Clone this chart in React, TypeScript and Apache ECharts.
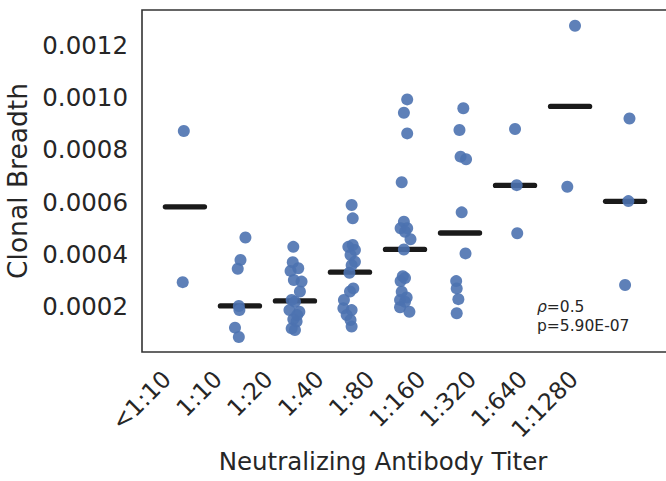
import React, { useEffect, useRef } from "react";
import * as echarts from "echarts";

const categories = ["<1:10", "1:10", "1:20", "1:40", "1:80", "1:160", "1:320", "1:640", "1:1280"];
const medians = [0.000582, 0.000203, 0.000222, 0.000332, 0.000419, 0.000482, 0.000664, 0.000966, 0.000603];
const yTicks = [0.0002, 0.0004, 0.0006, 0.0008, 0.001, 0.0012];

// [jitter offset, clonal breadth]
const gLt10 = [[-0.02, 0.000872], [-0.04, 0.000294]];
const g10 = [[0.1, 0.000465], [0.01, 0.000379], [-0.04, 0.000345], [-0.02, 0.000203], [-0.01, 0.000187], [-0.09, 0.00012], [-0.02, 0.0000841]];
const g20 = [[-0.03, 0.000429], [-0.04, 0.00037], [0.06, 0.000347], [-0.08, 0.000337], [-0.02, 0.000302], [0.12, 0.000296], [0.09, 0.000258], [-0.06, 0.000226], [0.0, 0.000219], [0.08, 0.000181], [-0.1, 0.000187], [-0.03, 0.000152], [0.03, 0.000143], [-0.06, 0.000117], [0.0, 0.000111], [0.04, 0.000168]];
const g40 = [[0.03, 0.000589], [0.05, 0.000538], [-0.03, 0.000429], [0.05, 0.000436], [0.09, 0.000417], [0.01, 0.000398], [0.09, 0.000372], [0.03, 0.000359], [-0.01, 0.00033], [0.06, 0.00027], [0.0, 0.000258], [-0.11, 0.000226], [-0.12, 0.000194], [0.03, 0.000187], [-0.06, 0.000168], [0.01, 0.000149], [0.03, 0.000124]];
const g80 = [[0.04, 0.000993], [-0.02, 0.000942], [0.04, 0.000863], [-0.06, 0.000676], [-0.02, 0.000525], [-0.08, 0.0005], [0.04, 0.0005], [0.0, 0.000487], [0.1, 0.000458], [-0.02, 0.000419], [-0.04, 0.000317], [-0.08, 0.000298], [-0.06, 0.000257], [-0.09, 0.000226], [0.0, 0.000219], [-0.09, 0.000198], [0.08, 0.000181], [0.0, 0.00031], [0.03, 0.000235]];
const g160 = [[0.06, 0.000959], [-0.01, 0.000876], [0.01, 0.000774], [0.11, 0.000764], [0.03, 0.000561], [0.1, 0.000404], [-0.07, 0.000298], [-0.06, 0.00027], [-0.03, 0.000229], [-0.06, 0.000175]];
const g320 = [[0.0, 0.00088], [0.03, 0.000665], [0.04, 0.000481]];
const g640 = [[0.09, 0.001275], [-0.05, 0.000659]];
const g1280 = [[0.08, 0.00092], [0.06, 0.000604], [0.0, 0.000283]];

const groups = [gLt10, g10, g20, g40, g80, g160, g320, g640, g1280];

const FONT = "DejaVu Sans";
const TXT = "#262626";

export default function App() {
  const ref = useRef<HTMLDivElement>(null);
  useEffect(() => {
    if (!ref.current) return;
    const chart = echarts.init(ref.current, null, { renderer: "svg" });
    const points = groups.flatMap((g, i) => g.map(([o, v]) => [i + o, v]));
    const medData = medians.map((m, i) => [i, m]);
    chart.setOption({
      animation: false,
      backgroundColor: "#ffffff",
      grid: {
        left: 142,
        top: 10,
        width: 526,
        height: 342,
        show: true,
        borderColor: "#333333",
        borderWidth: 1.6,
        backgroundColor: "transparent",
        containLabel: false,
        outerBoundsMode: "none",
      },
      xAxis: [
        {
          type: "value",
          min: -0.78,
          max: 8.78,
          show: false,
        },
        {
          type: "value",
          min: -0.4914,
          max: 9.848,
          position: "bottom",
          axisLine: { show: false },
          axisTick: { show: false },
          splitLine: { show: false },
          axisLabel: {
            customValues: [0, 1, 2, 3, 4, 5, 6, 7, 8],
            formatter: (v: number) => {
              const i = Math.round(v);
              return Math.abs(v - i) < 1e-6 && i >= 0 && i < categories.length ? categories[i] : "";
            },
            rotate: 45,
            margin: 23,
            fontSize: 23.5,
            fontFamily: FONT,
            color: TXT,
          },
          name: "Neutralizing Antibody Titer",
          nameLocation: "middle",
          nameGap: 92,
          nameTextStyle: {
            fontSize: 24.5,
            fontFamily: FONT,
            color: TXT,
            padding: [0, 44, 0, 0],
          },
        },
      ],
      yAxis: {
        type: "value",
        min: 0.0000268,
        max: 0.001335,
        axisLine: { show: false },
        axisTick: { show: false },
        splitLine: { show: false },
        axisLabel: {
          customValues: yTicks,
          formatter: (v: number) => v.toFixed(4),
          margin: 14,
          fontSize: 24.5,
          fontFamily: FONT,
          color: TXT,
        },
        name: "Clonal Breadth",
        nameLocation: "middle",
        nameGap: 91,
        nameTextStyle: {
          fontSize: 26.5,
          fontFamily: FONT,
          color: TXT,
        },
      },
      series: [
        {
          type: "custom",
          xAxisIndex: 0,
          z: 1,
          data: medData,
          renderItem: (params: any, api: any) => {
            const i = api.value(0);
            const m = api.value(1);
            const p1 = api.coord([i - 0.355, m]);
            const p2 = api.coord([i + 0.355, m]);
            return {
              type: "line",
              shape: { x1: p1[0], y1: p1[1], x2: p2[0], y2: p2[1] },
              style: { stroke: "#1a1a1a", lineWidth: 5.3, lineCap: "round" },
            };
          },
        },
        {
          type: "scatter",
          xAxisIndex: 0,
          z: 2,
          data: points,
          symbol: "circle",
          symbolSize: 12,
          itemStyle: { color: "#4C72B0", opacity: 0.9 },
        },
      ],
      graphic: [
        {
          type: "text",
          left: 537,
          top: 299,
          style: {
            text: "{a|ρ}=0.5",
            fontSize: 15.5,
            fontFamily: FONT,
            fill: TXT,
            rich: { a: { fontStyle: "italic", fontSize: 15.5, fontFamily: FONT, fill: TXT } },
          },
        },
        {
          type: "text",
          left: 537,
          top: 318,
          style: {
            text: "p=5.90E-07",
            fontSize: 15.5,
            fontFamily: FONT,
            fill: TXT,
          },
        },
      ],
    });
    return () => chart.dispose();
  }, []);
  return (
    <div
      ref={ref}
      style={{ position: "fixed", left: 0, top: 0, width: 666, height: 481, background: "#fff" }}
    />
  );
}
